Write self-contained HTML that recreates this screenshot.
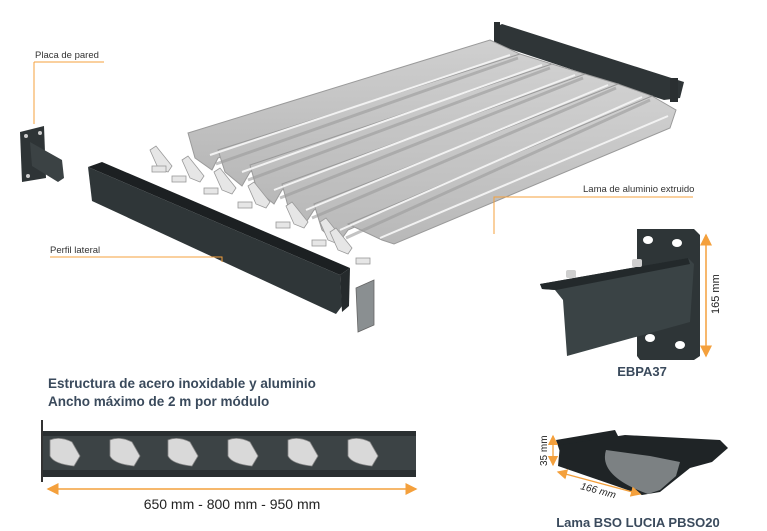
<!DOCTYPE html>
<html><head><meta charset="utf-8"><style>
html,body{margin:0;padding:0;background:#fff;}
svg{display:block;}
text{font-family:"Liberation Sans",sans-serif;}
</style></head><body>
<svg width="767" height="531" viewBox="0 0 767 531" xmlns="http://www.w3.org/2000/svg">
<defs>
<marker id="ar" markerWidth="8" markerHeight="8" refX="7" refY="4" orient="auto"><path d="M0,0 L8,4 L0,8 Z" fill="#f4a03c"/></marker>
<marker id="al" markerWidth="8" markerHeight="8" refX="1" refY="4" orient="auto"><path d="M8,0 L0,4 L8,8 Z" fill="#f4a03c"/></marker>
<linearGradient id="sl" x1="0" y1="0" x2="0" y2="1"><stop offset="0" stop-color="#d0d0d0"/><stop offset="1" stop-color="#b8b8b8"/></linearGradient>
</defs>

<!-- back rail -->
<polygon points="494,28 502,24 684,82 680,98 664,100 498,45" fill="#2f3537"/>
<rect x="494" y="22" width="6" height="24" fill="#2a2f31"/>
<rect x="670" y="78" width="8" height="24" fill="#2a2f31"/>

<!-- slats -->
<g stroke="#9a9a9a" stroke-width="1">
<polygon points="188,133 490,40 520,54 218,158 212,170 195,158" fill="url(#sl)"/>
<polygon points="218,150 520,54 552,64 250,172 242,186 225,172" fill="url(#sl)"/>
<polygon points="250,165 552,64 585,74 282,190 274,204 257,190" fill="url(#sl)"/>
<polygon points="282,184 585,74 618,84 314,210 305,224 289,210" fill="url(#sl)"/>
<polygon points="314,204 618,84 652,96 348,230 338,244 322,230" fill="url(#sl)"/>
<polygon points="348,224 652,96 676,110 670,128 394,244 382,240" fill="url(#sl)"/>
</g>
<g stroke="#f2f2f2" stroke-width="2" fill="none">
<line x1="210" y1="155" x2="510" y2="55"/>
<line x1="242" y1="172" x2="542" y2="65"/>
<line x1="274" y1="190" x2="575" y2="75"/>
<line x1="306" y1="210" x2="608" y2="85"/>
<line x1="340" y1="230" x2="642" y2="97"/>
<line x1="380" y1="238" x2="668" y2="116"/>
</g>
<g stroke="#9c9c9c" stroke-width="3" fill="none" opacity="0.6">
<line x1="216" y1="164" x2="518" y2="58"/>
<line x1="248" y1="180" x2="550" y2="68"/>
<line x1="280" y1="198" x2="583" y2="78"/>
<line x1="312" y1="218" x2="616" y2="88"/>
<line x1="346" y1="238" x2="650" y2="100"/>
</g>

<!-- clips -->
<g fill="#e6e6e6" stroke="#999" stroke-width="0.8">
<path d="M150,150 l6,-4 l16,20 l-4,6 l-10,-4 z"/><rect x="152" y="166" width="14" height="6"/>
<path d="M182,160 l6,-4 l16,20 l-4,6 l-10,-4 z"/><rect x="172" y="176" width="14" height="6"/>
<path d="M214,172 l6,-4 l16,20 l-4,6 l-10,-4 z"/><rect x="204" y="188" width="14" height="6"/>
<path d="M248,186 l6,-4 l16,20 l-4,6 l-10,-4 z"/><rect x="238" y="202" width="14" height="6"/>
<path d="M286,206 l6,-4 l16,20 l-4,6 l-10,-4 z"/><rect x="276" y="222" width="14" height="6"/>
<path d="M320,222 l6,-4 l16,20 l-4,6 l-10,-4 z"/><rect x="312" y="240" width="14" height="6"/>
<path d="M330,232 l6,-4 l16,20 l-4,6 l-10,-4 z"/><rect x="356" y="258" width="14" height="6"/>
</g>

<!-- wall plate -->
<polygon points="20,132 44,126 46,178 22,182" fill="#2e3436"/>
<polygon points="30,142 62,160 64,178 58,182 32,166" fill="#3b4244"/>
<circle cx="26" cy="136" r="2" fill="#ccc"/><circle cx="40" cy="133" r="2" fill="#ccc"/>
<circle cx="28" cy="176" r="2" fill="#ccc"/>

<!-- perfil lateral -->
<polygon points="88,167 102,162 350,268 340,275" fill="#1c2022"/>
<polygon points="88,167 340,275 342,306 336,314 92,201" fill="#2f3638"/>
<polygon points="340,275 350,268 349,306 342,312" fill="#252a2c"/>
<!-- end cap -->
<polygon points="356,288 374,280 374,325 358,332" fill="#8a8f91" stroke="#666" stroke-width="0.8"/>

<!-- labels top -->
<text x="35" y="58" font-size="9.5" fill="#333">Placa de pared</text>
<polyline points="34,62 104,62" stroke="#f4a03c" fill="none"/>
<polyline points="34,62 34,124" stroke="#f4a03c" fill="none"/>
<text x="50" y="253" font-size="9.5" fill="#333">Perfil lateral</text>
<polyline points="50,257 222,257 222,262" stroke="#f4a03c" fill="none"/>
<text x="583" y="192" font-size="9.5" fill="#333">Lama de aluminio extruido</text>
<polyline points="494,234 494,197 693,197" stroke="#f4a03c" fill="none"/>

<!-- EBPA37 -->
<polygon points="637,229 694,229 700,235 700,356 694,360 640,360 637,356" fill="#2e3537"/>
<ellipse cx="648" cy="240" rx="5" ry="4" fill="#fff"/><ellipse cx="677" cy="243" rx="5" ry="4" fill="#fff"/>
<ellipse cx="650" cy="338" rx="5" ry="4" fill="#fff"/><ellipse cx="680" cy="345" rx="5" ry="4" fill="#fff"/>
<polygon points="540,284 688,258 694,264 690,322 567,356 563,300 555,290 542,289" fill="#3a4345"/>
<polygon points="540,284 688,258 690,264 556,290 542,289" fill="#23292b"/>
<rect x="566" y="270" width="10" height="8" rx="2" fill="#cfcfcf"/>
<rect x="632" y="259" width="10" height="8" rx="2" fill="#cfcfcf"/>
<line x1="706" y1="235" x2="706" y2="356" stroke="#f4a03c" stroke-width="1.5" marker-start="url(#al)" marker-end="url(#ar)"/>
<text transform="translate(719,314) rotate(-90)" font-size="11" fill="#222">165 mm</text>
<text x="642" y="376" font-size="13" font-weight="bold" fill="#3a4a5c" text-anchor="middle">EBPA37</text>

<!-- headings -->
<text x="48" y="388" font-size="13.5" font-weight="bold" fill="#3a4a5c">Estructura de acero inoxidable y aluminio</text>
<text x="48" y="406" font-size="13.5" font-weight="bold" fill="#3a4a5c">Ancho máximo de 2 m por módulo</text>

<!-- bottom bar -->
<rect x="41" y="420" width="2" height="62" fill="#333"/>
<rect x="43" y="431" width="373" height="46" fill="#3c4345"/>
<rect x="43" y="431" width="373" height="5" fill="#2a2f31"/>
<rect x="43" y="470" width="373" height="7" fill="#2a2f31"/>
<g fill="#d9d9d9" stroke="#888" stroke-width="0.8">
<path d="M50,440 q10,-4 22,2 l8,14 l-6,10 q-20,-2 -24,-10 z"/>
<path d="M110,440 q10,-4 22,2 l8,14 l-6,10 q-20,-2 -24,-10 z"/>
<path d="M168,440 q10,-4 22,2 l8,14 l-6,10 q-20,-2 -24,-10 z"/>
<path d="M228,440 q10,-4 22,2 l8,14 l-6,10 q-20,-2 -24,-10 z"/>
<path d="M288,440 q10,-4 22,2 l8,14 l-6,10 q-20,-2 -24,-10 z"/>
<path d="M348,440 q10,-4 22,2 l8,14 l-6,10 q-20,-2 -24,-10 z"/>
</g>
<line x1="48" y1="489" x2="416" y2="489" stroke="#f4a03c" stroke-width="1.5" marker-start="url(#al)" marker-end="url(#ar)"/>
<text x="232" y="509" font-size="14" fill="#222" text-anchor="middle">650 mm - 800 mm - 950 mm</text>

<!-- Lama BSO -->
<polygon points="556,440 615,430 620,440 560,452" fill="#1f2426"/>
<path d="M560,445 L625,435 L720,440 L728,448 L712,462 L690,468 L660,492 L642,495 L558,466 Z" fill="#1f2426"/>
<path d="M606,450 L650,456 L680,462 L676,476 L660,490 L648,494 Q598,476 606,450 Z" fill="#7c8183"/>
<line x1="553" y1="436" x2="553" y2="465" stroke="#f4a03c" stroke-width="1.3" marker-start="url(#al)" marker-end="url(#ar)"/>
<text transform="translate(547,466) rotate(-90)" font-size="10" fill="#222">35 mm</text>
<line x1="558" y1="472" x2="640" y2="494" stroke="#f4a03c" stroke-width="1.3" marker-start="url(#al)" marker-end="url(#ar)"/>
<text transform="translate(580,489) rotate(15)" font-size="10" font-style="italic" fill="#222">166 mm</text>
<text x="638" y="527" font-size="13" font-weight="bold" fill="#3a4a5c" text-anchor="middle">Lama BSO LUCIA  PBSO20</text>
</svg>
</body></html>
